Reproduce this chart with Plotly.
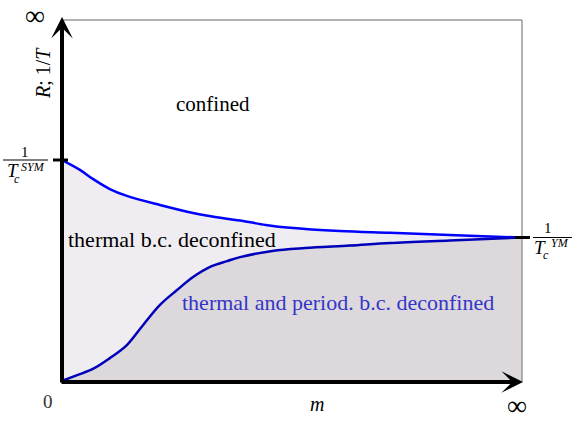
import plotly.graph_objects as go

# ── Phase boundaries (m on x, R;1/T on y, both 0..10 = 0..inf) ──────
upper_m = [0, 0.39, 0.67, 1.04, 1.41, 2.13, 2.85, 3.59, 3.87, 4.43, 4.96, 6.04, 7.13, 8.43, 10]
upper_r = [6.13, 5.86, 5.61, 5.33, 5.14, 4.89, 4.67, 4.51, 4.46, 4.34, 4.26, 4.17, 4.12, 4.06, 3.99]

lower_m = [0, 0.33, 0.67, 1.04, 1.41, 1.76, 2.13, 2.50, 2.85, 3.22, 3.59, 3.87,
           4.57, 5.28, 6.26, 7.13, 8.43, 10]
lower_r = [0.03, 0.19, 0.36, 0.66, 1.02, 1.57, 2.13, 2.54, 2.90, 3.18, 3.34, 3.45,
           3.62, 3.70, 3.77, 3.84, 3.91, 3.99]

LIGHT = "#efedf1"
DARK = "#dcd8dc"
SERIF = "Liberation Serif, Times New Roman, serif"

# plot box in pixels
L, R_, T, B = 62, 522, 20, 382
W, H = 573, 421


def px(x, y):
    """pixel position -> paper coords"""
    return (x - L) / (R_ - L), (B - y) / (B - T)


fig = go.Figure()
fig.add_trace(go.Scatter(
    x=upper_m, y=upper_r, mode="lines", fill="tozeroy", fillcolor=LIGHT,
    line=dict(color="#0000ff", width=2.5, shape="spline"), hoverinfo="skip",
))
fig.add_trace(go.Scatter(
    x=lower_m, y=lower_r, mode="lines", fill="tozeroy", fillcolor=DARK,
    line=dict(color="#0000bb", width=2.5, shape="spline"), hoverinfo="skip",
))

shapes = [
    # grey frame (top / right)
    dict(type="line", xref="paper", yref="paper", x0=0, y0=1, x1=1, y1=1,
         line=dict(color="#999999", width=1.5)),
    dict(type="line", xref="paper", yref="paper", x0=1, y0=0, x1=1, y1=1,
         line=dict(color="#999999", width=1.5)),
]

# tick marks
for (xa, ya, xb, yb) in [(53, 160, 68, 160), (515, 237.5, 530, 237.5)]:
    p0, p1 = px(xa, ya), px(xb, yb)
    shapes.append(dict(type="line", xref="paper", yref="paper",
                       x0=p0[0], y0=p0[1], x1=p1[0], y1=p1[1],
                       line=dict(color="black", width=3)))
# fraction bars
for (xa, xb, yy) in [(3, 48, 160), (533, 572, 237.5)]:
    p0, p1 = px(xa, yy), px(xb, yy)
    shapes.append(dict(type="line", xref="paper", yref="paper",
                       x0=p0[0], y0=p0[1], x1=p1[0], y1=p1[1],
                       line=dict(color="black", width=1)))

annotations = []

# axis arrows (paper refs so they are not hidden outside the range)
tip_x, _ = px(523, 382)
_, tip_y = px(62, 17)
annotations.append(dict(x=tip_x, y=0, xref="paper", yref="paper",
                        ax=-(523 - 60), ay=0, axref="pixel", ayref="pixel",
                        text="", showarrow=True, arrowhead=3, arrowsize=0.9,
                        arrowwidth=4, arrowcolor="black"))
annotations.append(dict(x=0, y=tip_y, xref="paper", yref="paper",
                        ax=0, ay=(384 - 17), axref="pixel", ayref="pixel",
                        text="", showarrow=True, arrowhead=3, arrowsize=0.9,
                        arrowwidth=4, arrowcolor="black"))


def label(text, x, y, size, color="black", angle=0):
    xp, yp = px(x, y)
    annotations.append(dict(x=xp, y=yp, xref="paper", yref="paper", text=text,
                            showarrow=False, xanchor="center", yanchor="middle",
                            textangle=angle,
                            font=dict(family=SERIF, size=size, color=color)))


label("confined", 213, 104, 21)
label("thermal b.c. deconfined", 172, 239, 22)
label("thermal and period. b.c. deconfined", 338, 302, 22, color="#3535c8")

label("∞", 35, 15, 28)
label("∞", 517, 405, 28)
label("0", 48, 401, 19, color="#333333")
label("<i>m</i>", 317, 404, 20)
label("<i>R</i>; 1/<i>T</i>", 43, 73, 20, angle=-90)

# left fraction 1 / T_c^SYM
label("1", 25, 152, 15)
label("<i>T</i>", 13, 170, 19)
label("<i>SYM</i>", 33, 167, 12)
label("<i>c</i>", 17, 179, 12)

# right fraction 1 / T_c^YM
label("1", 548, 228, 15)
label("<i>T</i>", 540, 247, 19)
label("<i>YM</i>", 560, 243, 12)
label("<i>c</i>", 546, 255, 12)

fig.update_layout(
    width=W, height=H,
    margin=dict(l=L, r=W - R_, t=T, b=H - B),
    paper_bgcolor="white", plot_bgcolor="white",
    showlegend=False,
    xaxis=dict(range=[0, 10], visible=False, fixedrange=True),
    yaxis=dict(range=[0, 10], visible=False, fixedrange=True),
    shapes=shapes,
    annotations=annotations,
)

fig.write_html("out.html", config=dict(displayModeBar=False),
               post_script="document.body.style.margin='0';")
